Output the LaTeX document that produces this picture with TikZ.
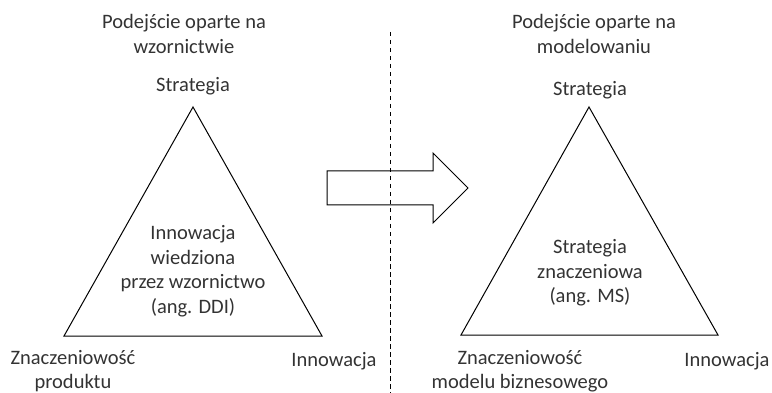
\documentclass[tikz,border=0pt]{standalone}
\usepackage{fontspec}
\setmainfont{Carlito}
\begin{document}
\begin{tikzpicture}[x=1pt,y=-1pt,
  lbl/.style={align=center,inner sep=0pt,font=\fontsize{20.5}{24.5}\selectfont,text=black!80},
  edge/.style={draw=black,line width=1pt,line join=miter}]
\useasboundingbox (0,0) rectangle (772,393);
% left triangle
\coordinate (LA) at (193,107);
\coordinate (LB) at (64,336);
\coordinate (LC) at (322,336);
\draw[edge] (LA) -- (LB) -- (LC) -- cycle;
% right triangle
\coordinate (RA) at (589,107);
\coordinate (RB) at (461,335);
\coordinate (RC) at (718,335);
\draw[edge] (RA) -- (RB) -- (RC) -- cycle;
% divider
\coordinate (DT) at (390,32);
\coordinate (DB) at (390,393);
\draw[line width=0.9pt,dash pattern=on 4.5pt off 3.5pt] (DT) -- (DB);
% block arrow
\draw[edge] (327,171) -- (433,171) -- (433,153) -- (468,188) -- (433,223) -- (433,205) -- (327,205) -- cycle;
% texts left
\node[lbl] (lh) at (184,34) {Podejście oparte na\\wzornictwie};
\node[lbl] (ls) at (193,86) {Strategia};
\node[lbl] (lc) at (193,271) {Innowacja\\wiedziona\\przez wzornictwo\\(ang. DDI)};
\node[lbl] (lz) at (73,371) {Znaczeniowość\\produktu};
\node[lbl] (li) at (334,361) {Innowacja};
% texts right
\node[lbl] (rh) at (594,34) {Podejście oparte na\\modelowaniu};
\node[lbl] (rs) at (590,90) {Strategia};
\node[lbl] (rc) at (590,273) {Strategia\\znaczeniowa\\(ang. MS)};
\node[lbl] (rz) at (520,371) {Znaczeniowość\\modelu biznesowego};
\node[lbl] (ri) at (727,361) {Innowacja};
\end{tikzpicture}
\end{document}
